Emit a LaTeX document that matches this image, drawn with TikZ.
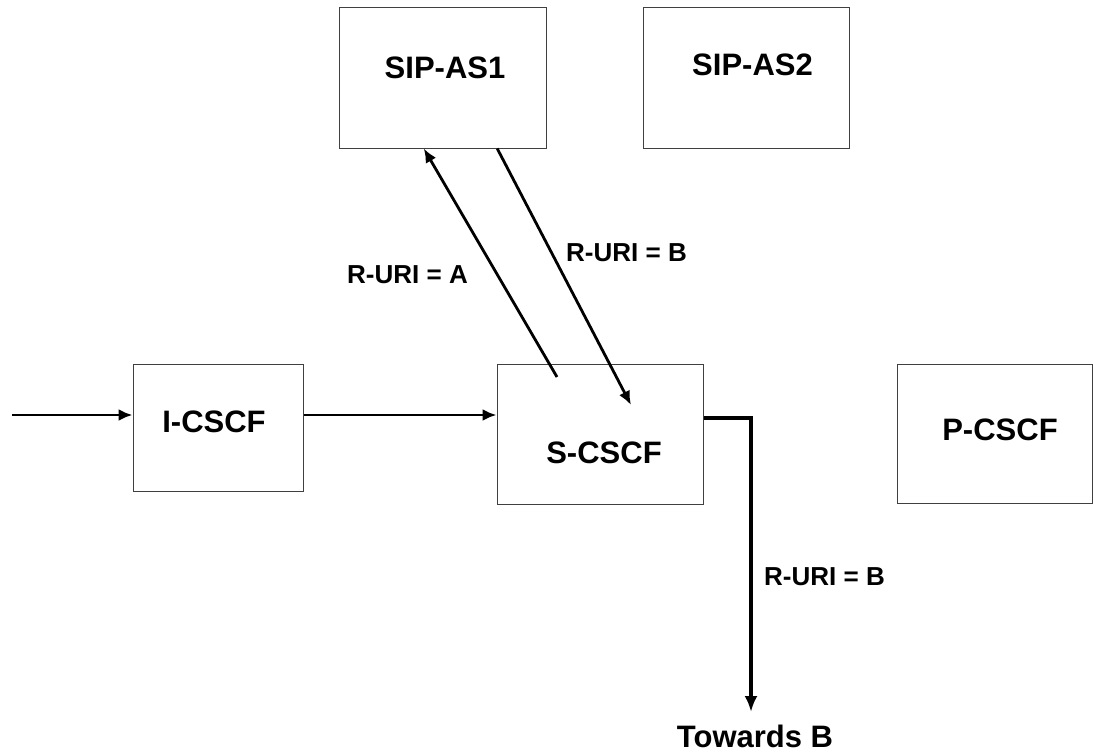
\documentclass[tikz,border=0pt]{standalone}
\usepackage{fontspec}
\setmainfont{Liberation Sans}
\usetikzlibrary{arrows.meta,calc}
\begin{document}
\begin{tikzpicture}[x=1pt,y=-1pt,
  box/.style={draw=black!75,line width=1pt,inner sep=0pt,minimum width=#1},
  title/.style={font=\fontsize{31}{31}\selectfont\bfseries,inner sep=0pt,anchor=center},
  tag/.style={font=\fontsize{26}{26}\selectfont\bfseries,inner sep=0pt,anchor=center},
  flow/.style={line width=2.8pt,-{Latex[length=14pt,width=12pt]}},
  outflow/.style={line width=3.8pt,-{Latex[length=16pt,width=13pt]}}]
\useasboundingbox (0,0) rectangle (1093,752);
% boxes
\node[box=207pt,minimum height=140pt] (as1) at (442.5,78) {};
\node[box=206pt,minimum height=140pt] (as2) at (746,78) {};
\node[box=170pt,minimum height=127pt] (icscf) at (218,427.5) {};
\node[box=206pt,minimum height=140pt] (scscf) at (600,434) {};
\node[box=195.5pt,minimum height=139pt] (pcscf) at (994.75,433.5) {};
% box titles
\node[title] (t-as1) at (445,67.5) {SIP-AS1};
\node[title] (t-as2) at (752.5,65) {SIP-AS2};
\node[title] (t-icscf) at (214,422) {I-CSCF};
\node[title] (t-scscf) at (604,453) {S-CSCF};
\node[title] (t-pcscf) at (1000,430) {P-CSCF};
\node[title] (towards) at (755,736) {Towards B};
% message labels
\node[tag] (l-a) at (407.5,274.5) {R-URI = A};
\node[tag] (l-b) at (626.5,252.5) {R-URI = B};
\node[tag] (l-out) at (824.5,577) {R-URI = B};
% connector ends
\coordinate (src) at (12,415);
\coordinate (a-start) at (557,377);
\coordinate (b-end) at (631,405);
\coordinate (corner) at (751,418);
\coordinate (sink) at (751,712);
\coordinate (as1-in) at ($(as1.south west)!0.41!(as1.south east)$);
\coordinate (as1-out) at ($(as1.south west)!0.763!(as1.south east)$);
% connectors
\draw[flow] (src) -- (src -| icscf.west);
\draw[flow] (icscf.east |- src) -- (scscf.west |- src);
\draw[flow] (a-start) -- (as1-in);
\draw[flow] (as1-out) -- (b-end);
\draw[outflow] (scscf.east |- corner) -- (corner) -- (sink);
\end{tikzpicture}
\end{document}
